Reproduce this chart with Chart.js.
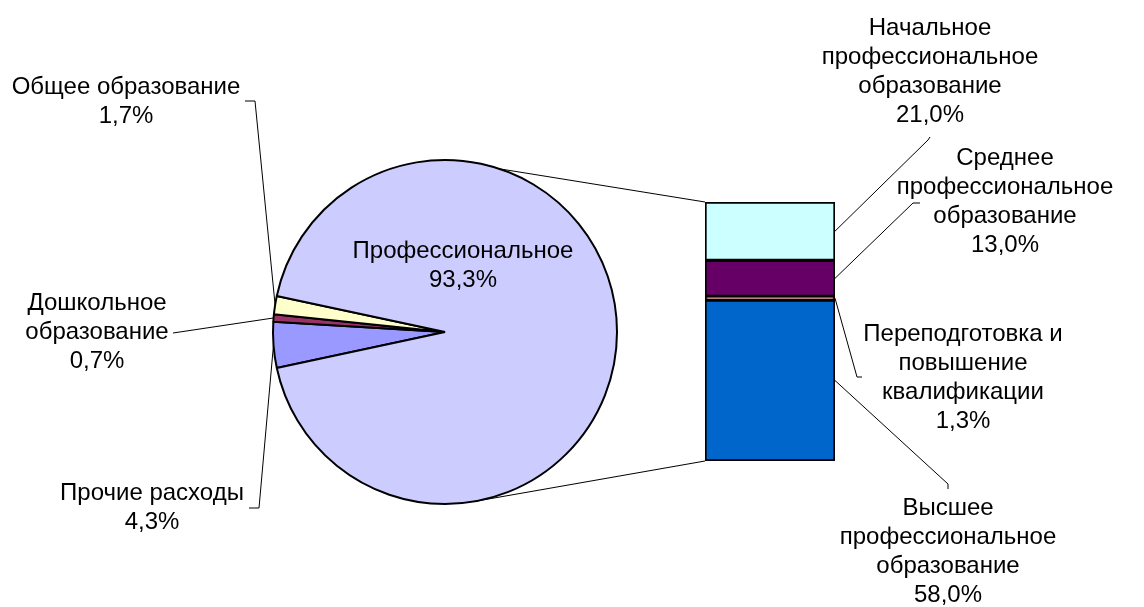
<!DOCTYPE html>
<html><head><meta charset="utf-8">
<script src="https://cdn.jsdelivr.net/npm/chart.js@4.4.0/dist/chart.umd.min.js"></script>
<style>
html,body{margin:0;padding:0;background:#fff;}
#wrap{position:relative;width:1144px;height:607px;overflow:hidden;}
canvas{position:absolute;}
</style>
</head><body>
<div id="wrap">
<canvas id="pie" width="1144" height="607" style="left:0;top:0"></canvas>
<canvas id="bar" width="130" height="259" style="left:705px;top:202px"></canvas>
</div>
<script>
// ---- data ----
const pieCategories = ['Прочие расходы', 'Дошкольное образование', 'Общее образование', 'Профессиональное'];
const pieValues = [4.3, 0.7, 1.7, 93.3];
const pieColors = ['#9999FF', '#993366', '#FFFFCC', '#CCCCFF'];
const pieLabelLines = [['Прочие расходы'], ['Дошкольное', 'образование'], ['Общее образование'], ['Профессиональное']];

const barCategories = ['Высшее профессиональное образование', 'Переподготовка и повышение квалификации', 'Среднее профессиональное образование', 'Начальное профессиональное образование'];
const barValues = [58.0, 1.3, 13.0, 21.0];
const barColors = ['#0066CC', '#FF8080', '#660066', '#CCFFFF'];
const barLabelLines = [['Высшее', 'профессиональное', 'образование'], ['Переподготовка и', 'повышение', 'квалификации'], ['Среднее', 'профессиональное', 'образование'], ['Начальное', 'профессиональное', 'образование']];

const fmt = v => v.toFixed(1).replace('.', ',') + '%';
const barTotal = barValues.reduce((a, b) => a + b, 0);

// ---- layout (label placement only) ----
const FONT = '24px "Liberation Sans", Arial, sans-serif';
const LH = 29;
const pieLabelPos = [
  {cx: 152, y: 493, leader: [[249, 508], [259, 508]]},
  {cx: 97, y: 303, leader: [[173, 333]]},
  {cx: 126, y: 87, leader: [[245, 101], [255, 101]]},
  {cx: 463, y: 251, leader: null}
];
const barLabelPos = [
  {cx: 948, y: 508, leader: [[948, 489], [948, 484]]},
  {cx: 963, y: 334, leader: [[862, 377], [857, 377]]},
  {cx: 1005, y: 158, leader: [[920, 203], [913, 203]]},
  {cx: 930, y: 28, leader: [[930, 137], [928, 140]]}
];
const connectorAngles = [-71.6, 80.2]; // degrees on pie rim

const barCanvas = document.getElementById('bar');
const barChart = new Chart(barCanvas, {
  type: 'bar',
  data: {
    labels: [''],
    datasets: barValues.map((v, i) => ({
      label: barCategories[i], data: [v], backgroundColor: barColors[i],
      borderColor: '#000', borderWidth: 2, borderSkipped: false,
      barPercentage: 1, categoryPercentage: 1
    }))
  },
  options: {
    responsive: false, animation: false, events: [],
    layout: {padding: 0},
    plugins: {legend: {display: false}, tooltip: {enabled: false}},
    scales: {
      x: {stacked: true, display: false},
      y: {stacked: true, display: false, min: 0, max: barTotal}
    }
  }
});

function drawPoly(ctx, pts) {
  ctx.beginPath();
  ctx.moveTo(pts[0][0], pts[0][1]);
  for (let i = 1; i < pts.length; i++) ctx.lineTo(pts[i][0], pts[i][1]);
  ctx.stroke();
}
function drawLines(ctx, lines, cx, y) {
  lines.forEach((t, k) => ctx.fillText(t, cx, y + k * LH));
}

const overlay = {
  id: 'overlay',
  afterDraw(chart) {
    const ctx = chart.ctx;
    const meta = chart.getDatasetMeta(0);
    const a0 = meta.data[0];
    const cx = a0.x, cy = a0.y, R = a0.outerRadius;
    const ox = barCanvas.offsetLeft, oy = barCanvas.offsetTop;
    const bars = barValues.map((v, i) => barChart.getDatasetMeta(i).data[0]);
    const barLeft = ox + bars[0].x - bars[0].width / 2;
    const barRight = ox + bars[0].x + bars[0].width / 2;
    const barTop = oy + bars[bars.length - 1].y;
    const barBottom = oy + bars[0].base;
    ctx.save();
    ctx.strokeStyle = '#000';
    ctx.lineWidth = 1;
    const p1 = connectorAngles[0] * Math.PI / 180, p2 = connectorAngles[1] * Math.PI / 180;
    drawPoly(ctx, [[cx + R * Math.cos(p1), cy + R * Math.sin(p1)], [barLeft, barTop]]);
    drawPoly(ctx, [[cx + R * Math.cos(p2), cy + R * Math.sin(p2)], [barLeft, barBottom]]);
    meta.data.forEach((arc, i) => {
      const pos = pieLabelPos[i];
      if (!pos.leader) return;
      const mid = (arc.startAngle + arc.endAngle) / 2;
      drawPoly(ctx, pos.leader.concat([[cx + R * Math.cos(mid), cy + R * Math.sin(mid)]]));
    });
    bars.forEach((b, i) => {
      const pos = barLabelPos[i];
      const midY = oy + (b.y + b.base) / 2;
      drawPoly(ctx, pos.leader.concat([[barRight, midY]]));
    });
    ctx.fillStyle = '#000';
    ctx.font = FONT;
    ctx.textAlign = 'center';
    ctx.textBaseline = 'middle';
    pieValues.forEach((v, i) => {
      const p = pieLabelPos[i];
      drawLines(ctx, pieLabelLines[i].concat([fmt(v)]), p.cx, p.y);
    });
    barValues.forEach((v, i) => {
      const p = barLabelPos[i];
      drawLines(ctx, barLabelLines[i].concat([fmt(v)]), p.cx, p.y);
    });
    ctx.restore();
  }
};

const pieChart = new Chart(document.getElementById('pie'), {
  type: 'pie',
  data: {
    labels: pieCategories,
    datasets: [{
      data: pieValues, backgroundColor: pieColors,
      borderColor: '#000', borderWidth: 2, hoverOffset: 0
    }]
  },
  options: {
    responsive: false, animation: false, events: [],
    rotation: 90 + 180 - (pieValues[0] + pieValues[1] + pieValues[2]) / 100 * 180,
    layout: {padding: {left: 272, top: 159, right: 526, bottom: 102}},
    plugins: {legend: {display: false}, tooltip: {enabled: false}}
  },
  plugins: [overlay]
});
</script>
</body></html>
